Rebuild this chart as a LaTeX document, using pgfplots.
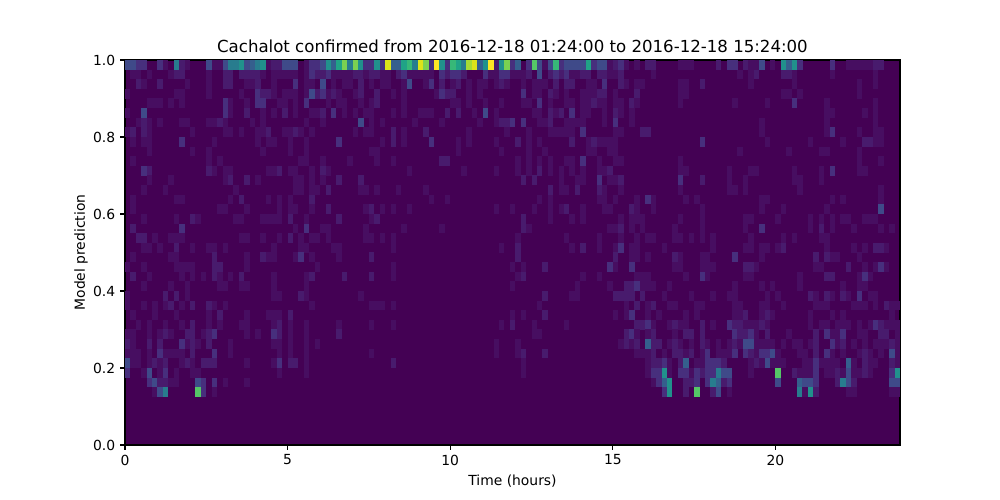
\documentclass[border=0pt]{standalone}
\usepackage{pgfplots}
\pgfplotsset{compat=1.18}
\usepackage{fontspec}
\setmainfont{DejaVu Sans}
\definecolor{vbase}{HTML}{440154}
\pgfdeclareplotmark{cell}{\pgfpathrectangle{\pgfpoint{-1.97bp}{-3.49bp}}{\pgfpoint{3.94bp}{6.98bp}}\pgfusepathqfill}
\pgfplotsset{cells/.style={scatter,only marks,mark=cell,point meta=explicit,
  scatter/use mapped color={draw=none,fill=mapped color},
  x filter/.expression={(x+#1+0.5)/6},y filter/.expression={1-(y+0.5)/40}},
  colormap={levels}{rgb255=(68,1,84) rgb255=(71,14,97) rgb255=(72,27,109) rgb255=(71,47,125) rgb255=(63,74,137) rgb255=(53,95,141) rgb255=(40,124,142) rgb255=(33,145,140) rgb255=(32,163,134) rgb255=(55,184,120) rgb255=(85,198,103) rgb255=(122,209,81) rgb255=(165,219,54) rgb255=(220,227,25) rgb255=(253,231,37)}}
\begin{document}
\begin{tikzpicture}
\useasboundingbox (-90bp,-39.6bp) rectangle (630bp,320.4bp);
\begin{axis}[at={(0,0)},anchor=south west,scale only axis,width=558bp,height=277.2bp,
  xmin=0,xmax=23.83,ymin=0,ymax=1,
  colormap name=levels,point meta min=0,point meta max=14,
  axis background/.style={fill=vbase},axis on top,
  axis line style={line width=0.8bp},
  every tick/.style={black,line width=0.8bp},
  tick align=outside,major tick length=3.5bp,xtick pos=bottom,ytick pos=left,
  xtick={0,5,10,15,20},ytick={0,0.2,0.4,0.6,0.8,1},
  /pgf/number format/assume math mode=true,
  yticklabel style={/pgf/number format/fixed,/pgf/number format/fixed zerofill,/pgf/number format/precision=1},
  tick label style={font=\fontsize{10bp}{12bp}\selectfont},
  label style={font=\fontsize{10bp}{12bp}\selectfont},
  xlabel={Time (hours)},ylabel={Model prediction},ylabel shift=-3bp,
  title={Cachalot confirmed from 2016-12-18 01:24:00 to 2016-12-18 15:24:00},
  title style={font=\fontsize{11.95bp}{14bp}\selectfont,yshift=-4.5bp},
]
% columns 0-35
\addplot[cells=0] coordinates {
(0,0)[4](1,0)[4](2,0)[3](3,0)[3](6,0)[3](7,0)[1](9,0)[6](10,0)[2](11,0)[1](15,0)[4](16,0)[1](17,0)[1](18,0)[4](19,0)[6](20,0)[6](21,0)[7](22,0)[4](23,0)[5](24,0)[6](25,0)[7](26,0)[1](27,0)[2](28,0)[2](29,0)[4](30,0)[4](31,0)[4](33,0)[1](34,0)[3](35,0)[3]
(1,1)[1](2,1)[1](4,1)[1](8,1)[1](9,1)[2](10,1)[2](15,1)[1](18,1)[2](19,1)[2](21,1)[2](22,1)[2](23,1)[2](24,1)[2](25,1)[1](27,1)[1](28,1)[1](29,1)[1](30,1)[1](31,1)[1](33,1)[1](34,1)[3](35,1)[2]
(2,2)[2](3,2)[1](6,2)[2](11,2)[1](15,2)[1](18,2)[2](19,2)[2](22,2)[1](23,2)[1](24,2)[2](27,2)[1](31,2)[3](33,2)[1](34,2)[1]
(0,3)[1](9,3)[1](10,3)[1](15,3)[1](21,3)[1](24,3)[3](25,3)[2](26,3)[2](27,3)[1](29,3)[1](30,3)[1](31,3)[1](33,3)[1](34,3)[4](35,3)[2]
(4,4)[1](5,4)[1](6,4)[1](8,4)[1](10,4)[1](18,4)[3](19,4)[1](22,4)[1](24,4)[3](25,4)[3](28,4)[1](29,4)[1](31,4)[1](33,4)[3]
(0,5)[1](3,5)[4](18,5)[3](19,5)[1](22,5)[2](25,5)[1](27,5)[1](29,5)[2](31,5)[1](34,5)[1](35,5)[1]
(2,6)[1](3,6)[2](4,6)[1](6,6)[1](10,6)[1](11,6)[1](15,6)[1](16,6)[1](17,6)[2](18,6)[1](23,6)[1](25,6)[1](33,6)[1]
(0,7)[1](1,7)[2](3,7)[2](4,7)[1](12,7)[1](18,7)[1](19,7)[1](21,7)[1](24,7)[1](25,7)[1](26,7)[2](29,7)[1](30,7)[1](31,7)[2](32,7)[1](34,7)[1]
(1,8)[1](3,8)[1](4,8)[1](10,8)[3](16,8)[1](24,8)[1](26,8)[1](27,8)[1](30,8)[1](33,8)[1]
(4,9)[1](12,9)[1](15,9)[1](25,9)[1](30,9)[1](33,9)[1]
(1,10)[1](15,10)[1](17,10)[1](32,10)[1](33,10)[1]
(3,11)[3](4,11)[2](15,11)[2](16,11)[1](18,11)[1](19,11)[1](26,11)[1](27,11)[1](28,11)[2](30,11)[1](31,11)[1](34,11)[1]
(4,12)[1](8,12)[1](18,12)[1](19,12)[2](22,12)[2](24,12)[1](31,12)[1](32,12)[1](34,12)[1]
(3,13)[1](7,13)[1](20,13)[1](31,13)[1](32,13)[1](34,13)[1](35,13)[1]
(1,14)[1](9,14)[1](10,14)[1](19,14)[1](21,14)[2](26,14)[1](28,14)[1](30,14)[1](34,14)[2]
(1,15)[1](17,15)[1](18,15)[1](22,15)[1](28,15)[1](30,15)[1](31,15)[1](34,15)[1]
(3,16)[1](9,16)[1](12,16)[2](13,16)[1](20,16)[1](21,16)[1](25,16)[1](26,16)[1](27,16)[1](28,16)[1](30,16)[2](33,16)[1]
(1,17)[2](10,17)[3](31,17)[1](33,17)[3]
(2,18)[2](3,18)[2](5,18)[1](8,18)[1](9,18)[1](10,18)[1](21,18)[1](22,18)[1](25,18)[1](28,18)[1](30,18)[2](32,18)[1](34,18)[1](35,18)[1]
(3,19)[1](4,19)[1](6,19)[1](9,19)[2](12,19)[1](15,19)[1](16,19)[1](18,19)[1](27,19)[1](32,19)[1](33,19)[1]
(1,20)[1](8,20)[1](9,20)[1](16,20)[2](22,20)[1](25,20)[2](26,20)[1](27,20)[1](31,20)[1](32,20)[3](34,20)[1]
(0,21)[1](3,21)[1](9,21)[1](10,21)[1](11,21)[1](12,21)[1](16,21)[2](17,21)[2](22,21)[1](35,21)[1]
(1,22)[2](4,22)[1](10,22)[1](12,22)[1](14,22)[1](16,22)[2](17,22)[1](19,22)[1](21,22)[2](27,22)[1](33,22)[1](34,22)[2]
(3,23)[1](8,23)[1](11,23)[1](17,23)[1](18,23)[1](21,23)[1](22,23)[1](27,23)[1](33,23)[1]
(0,24)[1](7,24)[2](9,24)[2](11,24)[1](27,24)[1](28,24)[1](32,24)[2](33,24)[1]
(0,25)[1](3,25)[1](5,25)[1](7,25)[1](8,25)[2](10,25)[1](12,25)[2](15,25)[2](16,25)[1](18,25)[1](34,25)[1]
(1,26)[1](5,26)[1](9,26)[1](15,26)[1](17,26)[2](22,26)[1](26,26)[1](27,26)[1](28,26)[1](30,26)[2]
(2,27)[1](4,27)[1](7,27)[1](10,27)[1](12,27)[2](15,27)[1](17,27)[1](21,27)[1](22,27)[1](27,27)[1](28,27)[2](30,27)[1](33,27)[1]
(0,28)[1](1,28)[1](4,28)[1](6,28)[1](7,28)[2](8,28)[1](11,28)[2](12,28)[2](14,28)[1](15,28)[2](16,28)[3](22,28)[1](24,28)[1](27,28)[3](28,28)[2](30,28)[1](33,28)[1]
(0,29)[2](1,29)[1](4,29)[2](6,29)[2](10,29)[3](11,29)[1](12,29)[2](13,29)[1](15,29)[2](19,29)[1](27,29)[1](28,29)[1](30,29)[1](33,29)[1](35,29)[1]
(0,30)[1](1,30)[1](2,30)[1](4,30)[1](6,30)[3](7,30)[1](8,30)[1](9,30)[1](10,30)[1](12,30)[2](16,30)[3](19,30)[1](28,30)[1](30,30)[1](33,30)[1]
(0,31)[4](1,31)[1](2,31)[1](4,31)[1](5,31)[2](6,31)[1](7,31)[2](10,31)[1](11,31)[2](12,31)[1](14,31)[2](15,31)[2](16,31)[2](22,31)[1](27,31)[1](28,31)[3](30,31)[2](31,31)[2](33,31)[1]
(0,32)[3](3,32)[1](4,32)[4](6,32)[1](7,32)[3](9,32)[1](12,32)[1](13,32)[1](28,32)[1](33,32)[1]
(4,33)[3](5,33)[4](6,33)[2](7,33)[2](8,33)[1](9,33)[1](13,33)[4](14,33)[3](16,33)[3](18,33)[1](22,33)[1]
(5,34)[1](6,34)[4](7,34)[6](13,34)[10](14,34)[3](16,34)[1]
};
% columns 36-71
\addplot[cells=36] coordinates {
(0,0)[4](1,0)[7](2,0)[5](3,0)[8](4,0)[11](5,0)[6](6,0)[11](7,0)[7](8,0)[3](9,0)[3](10,0)[7](11,0)[3](12,0)[13](13,0)[5](14,0)[5](15,0)[8](16,0)[9](17,0)[6](18,0)[13](19,0)[11](20,0)[3](21,0)[14](22,0)[7](23,0)[3](24,0)[9](25,0)[8](26,0)[6](27,0)[12](28,0)[13](29,0)[5](30,0)[7](31,0)[14](32,0)[2](33,0)[7](34,0)[11](35,0)[3]
(0,1)[2](1,1)[3](2,1)[1](3,1)[1](4,1)[1](5,1)[1](6,1)[2](7,1)[2](8,1)[1](9,1)[2](10,1)[2](11,1)[1](12,1)[1](14,1)[2](15,1)[3](16,1)[1](17,1)[1](18,1)[1](19,1)[1](20,1)[1](22,1)[3](23,1)[2](24,1)[3](25,1)[3](26,1)[2](30,1)[3](31,1)[1](32,1)[1](33,1)[3](34,1)[3](35,1)[1]
(0,2)[4](2,2)[1](4,2)[1](5,2)[1](7,2)[2](9,2)[1](11,2)[1](12,2)[1](15,2)[1](16,2)[4](19,2)[1](20,2)[3](22,2)[2](24,2)[1](25,2)[2](27,2)[1](29,2)[1](30,2)[1](32,2)[1](33,2)[2](34,2)[1]
(0,3)[3](1,3)[1](2,3)[2](3,3)[1](6,3)[1](7,3)[2](10,3)[2](13,3)[1](15,3)[1](21,3)[1](22,3)[3](23,3)[2](24,3)[2](27,3)[1](29,3)[1]
(1,4)[1](3,4)[1](4,4)[1](7,4)[1](9,4)[1](10,4)[2](15,4)[1](24,4)[1](25,4)[1](27,4)[1](30,4)[1](33,4)[1]
(0,5)[2](2,5)[3](4,5)[1](6,5)[1](8,5)[1](9,5)[1](13,5)[1](15,5)[1](18,5)[1](19,5)[1](20,5)[1](23,5)[2](25,5)[2](28,5)[1](30,5)[4](32,5)[1]
(0,6)[1](7,6)[4](9,6)[1](11,6)[1](17,6)[1](22,6)[1](29,6)[1](32,6)[1](33,6)[2](34,6)[2](35,6)[3]
(6,7)[1](8,7)[1](9,7)[1](13,7)[2](15,7)[1](19,7)[2](27,7)[1](34,7)[1]
(3,8)[3](11,8)[1](13,8)[2](15,8)[1](20,8)[3](25,8)[1](27,8)[1](32,8)[1]
(9,9)[1](10,9)[1](25,9)[1](33,9)[1]
(0,10)[1](5,10)[1](10,10)[1](13,10)[1](22,10)[2](23,10)[2]
(0,11)[2](1,11)[1](16,11)[1](26,11)[1](32,11)[1]
(0,12)[1](3,12)[2](7,12)[2]
(1,13)[2](7,13)[1](8,13)[1](10,13)[1](14,13)[1](19,13)[1]
(20,14)[1](23,14)[1]
(1,15)[2](8,15)[1](9,15)[2](11,15)[1](13,15)[1](16,15)[1](32,15)[1](35,15)[1]
(3,16)[2](9,16)[1](10,16)[2]
(0,17)[1](1,17)[1](8,17)[1](15,17)[1](22,17)[1]
(1,18)[1](8,18)[1](9,18)[1](11,18)[1](13,18)[1]
(2,19)[1](3,19)[1](13,19)[1](33,19)[1]
(3,20)[1](9,20)[2]
(13,21)[1](35,21)[1]
(4,22)[2](9,22)[2](13,22)[1]
(35,23)[1]
(7,24)[1]
(9,25)[1](10,25)[1](11,25)[1](13,25)[1]
(35,26)[1]
(3,27)[1](9,27)[1](13,27)[1](33,27)[1](35,27)[2]
(3,28)[2]
(32,29)[1]
(9,30)[1](32,30)[1]
(13,31)[2]
};
% columns 72-107
\addplot[cells=72] coordinates {
(0,0)[5](2,0)[3](3,0)[10](4,0)[4](5,0)[1](6,0)[4](7,0)[9](8,0)[3](9,0)[4](10,0)[4](11,0)[4](12,0)[4](13,0)[8](14,0)[3](15,0)[4](16,0)[4](17,0)[1](18,0)[2](19,0)[3](20,0)[1](22,0)[1](24,0)[2](25,0)[2](30,0)[1](31,0)[1](32,0)[1]
(0,1)[1](1,1)[1](2,1)[2](4,1)[4](6,1)[2](7,1)[3](8,1)[2](9,1)[3](10,1)[1](11,1)[1](12,1)[2](13,1)[2](15,1)[2](16,1)[2](17,1)[1](18,1)[1](19,1)[2](25,1)[1]
(1,2)[1](3,2)[1](4,2)[1](5,2)[1](7,2)[2](9,2)[2](10,2)[2](13,2)[1](14,2)[1](16,2)[3](19,2)[2](20,2)[1](22,2)[1](23,2)[1](30,2)[1](31,2)[1](34,2)[2]
(1,3)[3](3,3)[1](4,3)[1](6,3)[2](7,3)[1](9,3)[1](12,3)[1](13,3)[1](14,3)[1](15,3)[2](16,3)[2](18,3)[1](22,3)[2](30,3)[1](31,3)[1]
(1,4)[1](2,4)[1](4,4)[3](6,4)[1](9,4)[1](10,4)[1](12,4)[1](13,4)[1](14,4)[2](15,4)[1](16,4)[1](18,4)[1](19,4)[1](21,4)[2](22,4)[1](30,4)[1]
(3,5)[1](4,5)[1](6,5)[2](7,5)[1](8,5)[2](10,5)[3](12,5)[1](13,5)[1](16,5)[1](18,5)[2](19,5)[1](21,5)[1]
(1,6)[3](4,6)[1](5,6)[1](6,6)[2](9,6)[1](10,6)[1](11,6)[1](12,6)[1](16,6)[1](18,6)[3](21,6)[1]
(2,7)[1](6,7)[1](7,7)[1](8,7)[1](9,7)[1](10,7)[1](12,7)[3](18,7)[1](19,7)[1](23,7)[2](24,7)[2]
(0,8)[2](2,8)[1](4,8)[1](10,8)[2](13,8)[1](14,8)[2](15,8)[1](16,8)[1](17,8)[1](18,8)[1](34,8)[3]
(2,9)[1](5,9)[1](13,9)[1](14,9)[1](17,9)[1](18,9)[1]
(0,10)[1](2,10)[1](4,10)[1](6,10)[1](9,10)[1](10,10)[1](12,10)[3](15,10)[1](18,10)[1](19,10)[1](30,10)[1]
(0,11)[1](2,11)[1](4,11)[2](6,11)[1](8,11)[1](10,11)[1](12,11)[1](15,11)[1](16,11)[1](17,11)[2](30,11)[1](31,11)[1]
(1,12)[2](3,12)[2](8,12)[1](11,12)[1](12,12)[1](15,12)[3](17,12)[1](18,12)[1](19,12)[2](30,12)[3](34,12)[2]
(6,13)[2](8,13)[1](9,13)[1](11,13)[2](15,13)[2](16,13)[1](19,13)[1](30,13)[1]
(4,14)[1](6,14)[1](15,14)[1](16,14)[1](18,14)[1](22,14)[1](24,14)[3](25,14)[1](31,14)[1](33,14)[1]
(3,15)[1](6,15)[1](8,15)[1](9,15)[2](12,15)[1](16,15)[1](17,15)[1](21,15)[2](22,15)[1](25,15)[1](34,15)[1]
(1,16)[2](6,16)[1](10,16)[1](12,16)[1](19,16)[1](21,16)[1](22,16)[1](23,16)[1](30,16)[1](34,16)[1]
(1,17)[2](2,17)[1](17,17)[1](18,17)[1](19,17)[2](21,17)[1](23,17)[1](29,17)[1](34,17)[1]
(0,18)[1](9,18)[1](15,18)[1](19,18)[1](22,18)[1](24,18)[1](25,18)[1](29,18)[1](30,18)[1](32,18)[1](34,18)[1]
(0,19)[2](10,19)[1](12,19)[2](15,19)[1](18,19)[1](19,19)[3](21,19)[1](22,19)[1](27,19)[1]
(0,20)[2](18,20)[2](21,20)[1](22,20)[1](24,20)[1](29,20)[2](30,20)[1](34,20)[1](35,20)[1]
(1,21)[1](5,21)[2](17,21)[3](18,21)[1](21,21)[3](29,21)[1](30,21)[1](34,21)[1](35,21)[1]
(0,22)[1](1,22)[2](12,22)[1](15,22)[1](22,22)[1](23,22)[1](24,22)[1](31,22)[1](34,22)[3](35,22)[1]
(11,23)[1](17,23)[1](20,23)[2](21,23)[2](22,23)[3](23,23)[1](24,23)[1](25,23)[1](28,23)[1]
(5,24)[2](10,24)[1](11,24)[1](18,24)[2](19,24)[2](20,24)[2](21,24)[2](23,24)[2](27,24)[1](32,24)[1]
(4,25)[1](20,25)[1](22,25)[2](24,25)[1](25,25)[2](28,25)[1](29,25)[1](33,25)[1](34,25)[1]
(1,26)[1](5,26)[2](18,26)[1](20,26)[1](21,26)[3](24,26)[1](26,26)[1](31,26)[1](33,26)[1]
(3,27)[1](9,27)[1](22,27)[2](23,27)[2](24,27)[3](25,27)[1](28,27)[1](29,27)[2](30,27)[1](31,27)[1](34,27)[2]
(3,28)[1](4,28)[1](20,28)[2](21,28)[3](22,28)[1](24,28)[1](25,28)[2](29,28)[1](31,28)[2](32,28)[2](34,28)[2]
(0,29)[1](19,29)[1](20,29)[2](21,29)[1](22,29)[2](24,29)[5](25,29)[2](26,29)[2](28,29)[1](29,29)[2](30,29)[1](32,29)[1](34,29)[2](35,29)[1]
(0,30)[1](1,30)[2](5,30)[2](22,30)[1](23,30)[1](24,30)[1](25,30)[2](27,30)[1](29,30)[2](30,30)[2](31,30)[1](32,30)[2](34,30)[1](35,30)[3]
(1,31)[1](24,31)[1](25,31)[2](26,31)[2](27,31)[3](28,31)[1](30,31)[2](31,31)[5](33,31)[1](34,31)[1](35,31)[3]
(1,32)[1](24,32)[1](25,32)[3](26,32)[3](27,32)[7](28,32)[1](30,32)[3](31,32)[3](32,32)[1](33,32)[3](34,32)[2](35,32)[3]
(25,33)[1](26,33)[3](27,33)[5](28,33)[7](31,33)[2](32,33)[2](33,33)[3](35,33)[3]
(27,34)[3](28,34)[7](31,34)[2](33,34)[10]
};
% columns 108-142
\addplot[cells=108] coordinates {
(1,0)[2](3,0)[3](4,0)[3](6,0)[2](7,0)[1](8,0)[1](9,0)[4](11,0)[1](13,0)[7](14,0)[5](15,0)[7](16,0)[3](22,0)[3](25,0)[1](26,0)[1](27,0)[1](28,0)[1](29,0)[1](30,0)[2](31,0)[2]
(5,1)[1](7,1)[1](8,1)[2](13,1)[2](14,1)[2](15,1)[1](22,1)[1](30,1)[1]
(7,2)[1](15,2)[1](27,2)[1](30,2)[1]
(13,3)[1](14,3)[1](16,3)[1](27,3)[1]
(4,4)[1](10,4)[1](15,4)[3](21,4)[1](30,4)[1]
(21,5)[1](22,5)[1](28,5)[1](30,5)[1]
(9,6)[1](21,6)[1](30,6)[1]
(9,7)[1](21,7)[1](22,7)[3](27,7)[1](30,7)[1](31,7)[1]
(10,8)[1](18,8)[1](24,8)[1](28,8)[2](29,8)[2](30,8)[1](31,8)[1]
(5,9)[1](14,9)[1](20,9)[1](21,9)[1](27,9)[1]
(27,10)[1](31,10)[1]
(3,11)[1](7,11)[1](8,11)[1](15,11)[1](20,11)[1](22,11)[3](27,11)[1](28,11)[1]
(3,12)[1](6,12)[1](15,12)[1](16,12)[1](20,12)[1]
(3,13)[1](4,13)[1](6,13)[1](16,13)[1](31,13)[1]
(9,14)[1](10,14)[1](22,14)[1](24,14)[1](31,14)[1]
(9,15)[1](13,15)[1](21,15)[1](31,15)[4]
(6,16)[1](7,16)[1](12,16)[1](18,16)[1](20,16)[1](22,16)[1](24,16)[1](25,16)[1](28,16)[1](29,16)[1](30,16)[1]
(6,17)[1](9,17)[3](18,17)[1](20,17)[2](22,17)[1](26,17)[1](31,17)[1](33,17)[1]
(0,18)[1](7,18)[1](13,18)[1](15,18)[1](20,18)[1](21,18)[1]
(0,19)[1](6,19)[1](7,19)[1](9,19)[1](10,19)[1](12,19)[1](13,19)[2](21,19)[1](26,19)[1](28,19)[1](30,19)[2](31,19)[2](32,19)[1]
(4,20)[3](9,20)[1](19,20)[2](21,20)[2](22,20)[1](23,20)[1](27,20)[1]
(0,21)[1](6,21)[2](7,21)[2](8,21)[1](19,21)[1](20,21)[1](25,21)[2](28,21)[1](30,21)[1](31,21)[3](32,21)[1]
(6,22)[1](7,22)[1](16,22)[1](21,22)[2](22,22)[2](27,22)[1](28,22)[3](29,22)[1]
(4,23)[1](9,23)[1](11,23)[1](16,23)[1](24,23)[1](27,23)[1](28,23)[1]
(0,24)[1](3,24)[1](4,24)[1](10,24)[1](12,24)[1](18,24)[2](19,24)[1](21,24)[2](22,24)[1](24,24)[2](25,24)[1](27,24)[3](29,24)[1](30,24)[1]
(4,25)[1](5,25)[1](9,25)[1](10,25)[1](13,25)[1](19,25)[1](20,25)[1](21,25)[1](26,25)[1](27,25)[1](28,25)[1](30,25)[1](32,25)[2](33,25)[1](34,25)[1]
(4,26)[1](5,26)[1](6,26)[2](9,26)[1](10,26)[2](11,26)[1](18,26)[1](22,26)[1](24,26)[1](33,26)[1]
(0,27)[1](3,27)[3](4,27)[2](5,27)[2](6,27)[1](7,27)[1](8,27)[1](9,27)[2](10,27)[1](18,27)[1](20,27)[1](21,27)[1](23,27)[1](24,27)[1](25,27)[1](27,27)[1](29,27)[1](30,27)[3](31,27)[2](32,27)[1](33,27)[1](34,27)[1]
(4,28)[3](5,28)[2](6,28)[2](7,28)[3](8,28)[1](10,28)[2](14,28)[1](19,28)[2](21,28)[3](22,28)[1](23,28)[1](24,28)[3](27,28)[1](28,28)[1](31,28)[2](32,28)[2](34,28)[1]
(1,29)[1](3,29)[1](4,29)[2](5,29)[1](6,29)[4](7,29)[4](8,29)[1](9,29)[1](10,29)[1](11,29)[1](13,29)[1](15,29)[1](16,29)[1](18,29)[1](19,29)[2](22,29)[3](23,29)[1](24,29)[2](26,29)[1](28,29)[1](30,29)[1](31,29)[1](32,29)[1](33,29)[2](34,29)[1]
(1,30)[1](2,30)[1](3,30)[1](4,30)[3](6,30)[3](7,30)[2](8,30)[1](9,30)[3](10,30)[3](11,30)[4](12,30)[1](16,30)[1](17,30)[1](19,30)[2](21,30)[3](22,30)[1](24,30)[1](27,30)[1](28,30)[2](29,30)[1](31,30)[1](33,30)[4](34,30)[1]
(0,31)[3](1,31)[3](2,31)[2](7,31)[1](8,31)[2](9,31)[1](10,31)[4](11,31)[1](12,31)[1](13,31)[1](17,31)[1](18,31)[1](19,31)[3](20,31)[1](21,31)[1](22,31)[1](23,31)[1](25,31)[5](26,31)[1](28,31)[2](29,31)[1](30,31)[1](33,31)[2](34,31)[1]
(0,32)[3](1,32)[6](2,32)[4](3,32)[4](7,32)[1](12,32)[10](15,32)[2](16,32)[1](17,32)[1](18,32)[1](19,32)[3](21,32)[1](22,32)[1](23,32)[2](24,32)[1](25,32)[4](26,32)[1](27,32)[1](28,32)[2](29,32)[1](33,32)[3](34,32)[7]
(0,33)[6](1,33)[5](2,33)[2](3,33)[3](12,33)[4](16,33)[5](17,33)[4](18,33)[4](19,33)[3](23,33)[2](24,33)[6](25,33)[4](26,33)[2](33,33)[4](34,33)[4]
(0,34)[2](1,34)[4](3,34)[1](16,34)[6](17,34)[1](18,34)[7](19,34)[2](25,34)[1](26,34)[1](33,34)[1](34,34)[1]
};
\end{axis}
\end{tikzpicture}
\end{document}
